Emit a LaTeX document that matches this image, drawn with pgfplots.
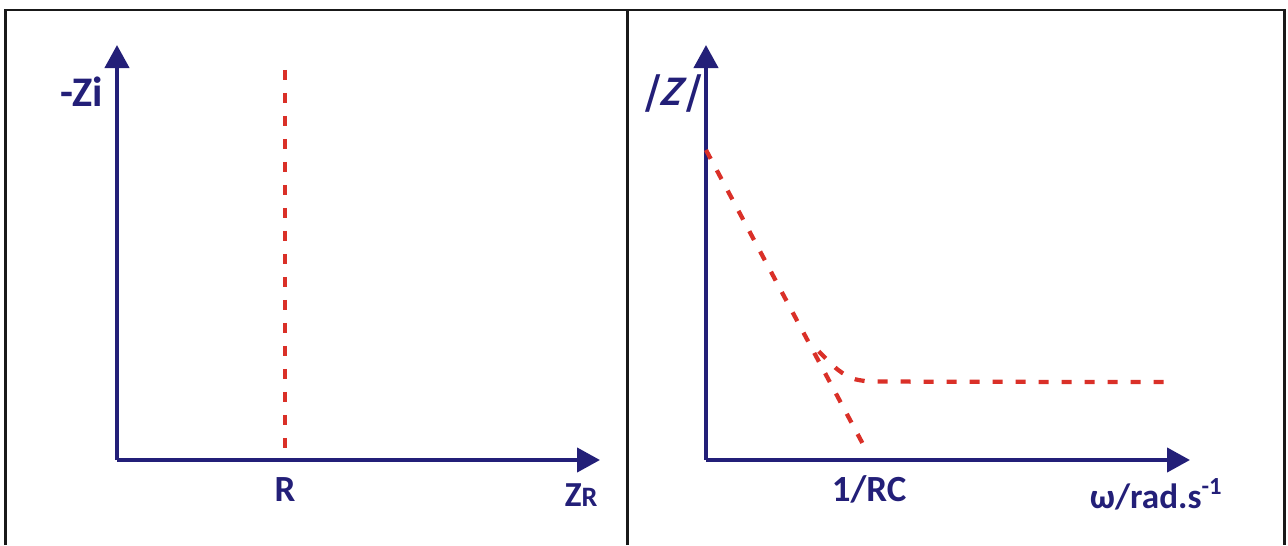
\documentclass[border=0pt]{standalone}
\usepackage{pgfplots}
\pgfplotsset{compat=1.18}
\usepackage{fontspec}
\setmainfont{Carlito}
\usetikzlibrary{arrows.meta}
\definecolor{navy}{RGB}{35,31,120}
\definecolor{dashred}{RGB}{218,48,40}
\begin{document}
\begin{tikzpicture}[lab/.style={anchor=base, text=navy, font=\bfseries}]
  % 1 px of the reference = 0.02cm
  \useasboundingbox (0,0) rectangle (25.76,10.9);
  \draw[line width=0.06cm, black!90] (0.12,0) -- (0.12,10.7) -- (25.68,10.7) -- (25.68,0);
  \draw[line width=0.06cm, black!90] (12.54,0) -- (12.54,10.7);
  \pgfplotsset{
    sketch/.style={
      scale only axis,
      anchor=south west,
      axis lines=left,
      axis line style={navy, line width=0.085cm, -{Triangle[length=0.46cm,width=0.48cm]}},
      xtick=\empty, ytick=\empty,
      xmin=0, xmax=1, ymin=0, ymax=1,
      enlargelimits=false,
      clip=false,
    },
    redline/.style={dashred, line width=0.085cm, dash pattern=on 0.2cm off 0.26cm, mark=none},
  }
  % Nyquist: -Zi vs ZR
  \begin{axis}[sketch, at={(2.34cm,1.7cm)}, width=9.66cm, height=8.3cm]
    \addplot[redline] coordinates {(0.348,0.94) (0.348,0.012)};
    \node[lab] at (rel axis cs:-0.0725,0.851) {\fontsize{24}{24}\selectfont -Zi};
    \node[lab] at (rel axis cs:0.348,-0.10) {\fontsize{21}{21}\selectfont R};
    \node[lab] at (rel axis cs:0.961,-0.112) {\fontsize{20}{20}\selectfont Z\fontsize{16}{16}\selectfont R};
  \end{axis}
  % Bode: |Z| vs omega
  \begin{axis}[sketch, at={(14.12cm,1.7cm)}, width=9.68cm, height=8.3cm]
    \addplot[redline] coordinates {(0.0,0.747) (0.3285,0.029)};
    \addplot[redline, smooth, tension=0.5] coordinates {(0.233,0.262) (0.273,0.217) (0.314,0.193) (0.40,0.189) (0.948,0.188)};
    \node[lab, xslant=0.3] at (rel axis cs:-0.0744,0.855) {\fontsize{24}{24}\selectfont |Z|};
    \node[lab] at (rel axis cs:0.337,-0.101) {\fontsize{21}{21}\selectfont 1/RC};
    \node[lab] at (rel axis cs:0.930,-0.116) {\fontsize{20}{20}\selectfont ω/rad.s\textsuperscript{-1}};
  \end{axis}
\end{tikzpicture}
\end{document}
